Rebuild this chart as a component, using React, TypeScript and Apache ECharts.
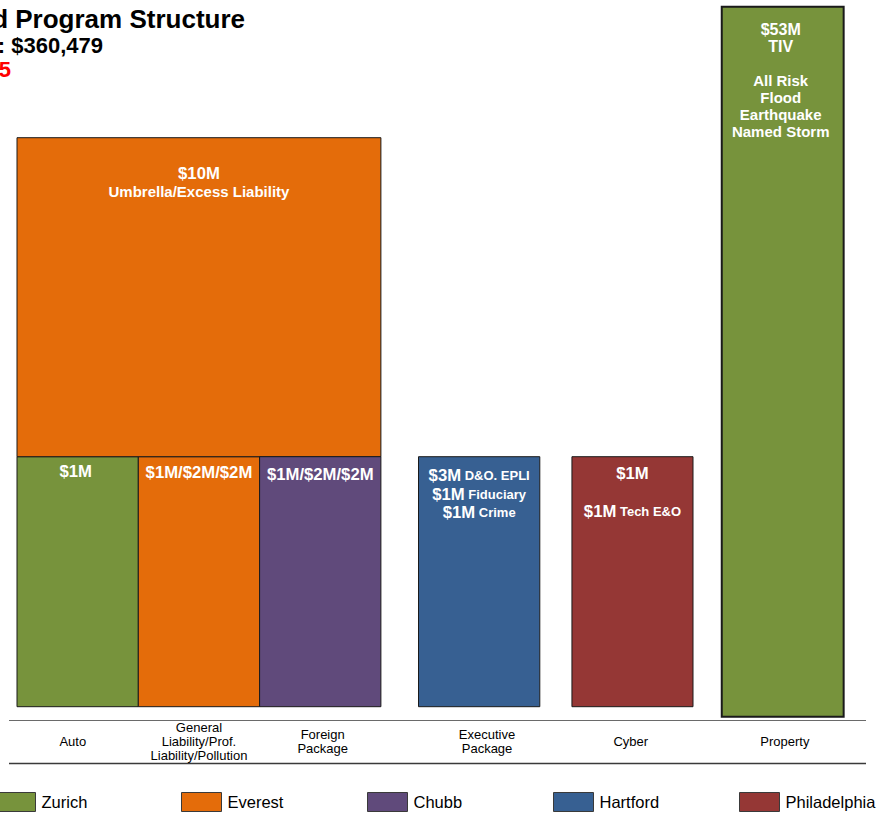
import React, { useEffect, useRef } from 'react';
import * as echarts from 'echarts';

const FONT = '"Liberation Sans", Arial, Helvetica, sans-serif';

// Carriers (legend) and their colours
const carriers = ['Zurich', 'Everest', 'Chubb', 'Hartford', 'Philadelphia'];
const carrierColors = ['#77933C', '#E46C0A', '#604A7B', '#376092', '#953735'];

// Coverage columns (x in column units)
const categories = [
  'Auto',
  'General\nLiability/Prof.\nLiability/Pollution',
  'Foreign\nPackage',
  'Executive\nPackage',
  'Cyber',
  'Property',
];
const columnStart = [0, 1, 2, 3.31, 4.575, 5.81];
const columnWidth = [1, 1, 1, 1.0, 0.998, 1.005];
const categoryLabelX = [0.46, 1.5, 2.52, 3.875, 5.06, 6.33];

// Layers of the program (y in primary-layer units)
const layerCarrier = ['Zurich', 'Everest', 'Chubb', 'Everest', 'Hartford', 'Philadelphia', 'Zurich'];
const layerFirstCol = [0, 1, 2, 0, 3, 4, 5];
const layerLastCol = [0, 1, 2, 2, 3, 4, 5];
const layerBottom = [0, 0, 0, 1, 0, 0, -0.04];
const layerTop = [1, 1, 1, 2.276, 1, 1, 2.8];
const layerLabels = [
  '{a|$1M}',
  '{a|$1M/$2M/$2M}',
  '{a|$1M/$2M/$2M}',
  '{a|$10M}\n{c|Umbrella/Excess Liability}',
  '{a|$3M} {b|D&O. EPLI}\n{a|$1M} {b|Fiduciary}\n{a|$1M} {b|Crime}',
  '{a|$1M}\n{a| }\n{a|$1M} {b|Tech E&O}',
  '{q|$53M}\n{q|TIV}\n{p| }\n{p|All Risk}\n{p|Flood}\n{p|Earthquake}\n{p|Named Storm}',
];

// Title lines
const titleLines = ['Proposed Program Structure', 'Total Program Premium: $360,479', 'Policy Term: 2024-2025'];

// Styling (positions / offsets for labels)
const labelFirstLineOffset = [15, 16, 18, 36, 19, 17, 23];
const labelLineHeight = [18, 18, 18, 18, 18.5, 19, 17];
const labelShiftX = [-2, 0, 0, 0, 0, 0, -2];
const legendLefts = [-5, 181, 367, 553, 739];

export default function App() {
  const ref = useRef<HTMLDivElement>(null);

  useEffect(() => {
    document.body.style.margin = '0';
    const chart = echarts.init(ref.current!, null, { renderer: 'svg' });

    const layerSeries = carriers.map((name, ci) => {
      const data: number[][] = [];
      layerCarrier.forEach((c, li) => {
        if (c !== name) return;
        const x0 = columnStart[layerFirstCol[li]];
        const x1 = columnStart[layerLastCol[li]] + columnWidth[layerLastCol[li]];
        data.push([x0, x1, layerBottom[li], layerTop[li], li]);
      });
      return {
        type: 'custom',
        name,
        itemStyle: { color: carrierColors[ci] },
        clip: false,
        data,
        renderItem: (params: any, api: any) => {
          const x0 = api.value(0);
          const x1 = api.value(1);
          const y0 = api.value(2);
          const y1 = api.value(3);
          const li = api.value(4);
          const tl = api.coord([x0, y1]);
          const br = api.coord([x1, y0]);
          const lh = labelLineHeight[li];
          const isProperty = li === 6;
          return {
            type: 'group',
            children: [
              {
                type: 'rect',
                shape: { x: tl[0], y: tl[1], width: br[0] - tl[0], height: br[1] - tl[1] },
                style: {
                  fill: carrierColors[ci],
                  stroke: '#1a1a1a',
                  lineWidth: isProperty ? 2 : 1,
                },
              },
              {
                type: 'text',
                x: (tl[0] + br[0]) / 2 + labelShiftX[li],
                y: tl[1] + labelFirstLineOffset[li] - lh / 2,
                style: {
                  text: layerLabels[li],
                  align: 'center',
                  verticalAlign: 'top',
                  fill: '#ffffff',
                  fontFamily: FONT,
                  fontWeight: 'bold',
                  fontSize: 13,
                  lineHeight: lh,
                  rich: {
                    a: { fontSize: 16.7, fontWeight: 'bold', fill: '#fff', fontFamily: FONT, lineHeight: lh },
                    b: { fontSize: 13, fontWeight: 'bold', fill: '#fff', fontFamily: FONT, lineHeight: lh },
                    c: { fontSize: 15, fontWeight: 'bold', fill: '#fff', fontFamily: FONT, lineHeight: lh },
                    p: { fontSize: 15, fontWeight: 'bold', fill: '#fff', fontFamily: FONT, lineHeight: lh },
                    q: { fontSize: 16, fontWeight: 'bold', fill: '#fff', fontFamily: FONT, lineHeight: lh },
                  },
                },
              },
            ],
          };
        },
      };
    });

    const axisLabelSeries = {
      type: 'custom',
      name: 'categories',
      clip: false,
      silent: true,
      data: categories.map((c, i) => [categoryLabelX[i], -0.141, i]),
      renderItem: (params: any, api: any) => {
        const p = api.coord([api.value(0), api.value(1)]);
        return {
          type: 'text',
          x: p[0],
          y: p[1],
          style: {
            text: categories[api.value(2)],
            align: 'center',
            verticalAlign: 'middle',
            fill: '#000',
            fontFamily: FONT,
            fontSize: 13,
            lineHeight: 14,
          },
        };
      },
    };

    chart.setOption({
      animation: false,
      backgroundColor: '#ffffff',
      grid: { left: 17, right: 14.9, top: 6.7, bottom: 57.3 },
      xAxis: { type: 'value', min: 0, max: 7, show: false },
      yAxis: { type: 'value', min: -0.2, max: 2.8, show: false },
      legend: carriers.map((name, i) => ({
        data: [name],
        left: legendLefts[i],
        top: 792,
        padding: 0,
        icon: 'rect',
        itemWidth: 40,
        itemHeight: 19,
        itemGap: 0,
        selectedMode: false,
        itemStyle: { borderColor: '#3a3a3a', borderWidth: 1 },
        textStyle: { fontFamily: FONT, fontSize: 16.5, color: '#000', padding: [0, 0, 0, 1] },
      })),
      graphic: [
        {
          type: 'text',
          x: 245,
          y: 19,
          style: {
            text: titleLines[0],
            align: 'right',
            verticalAlign: 'middle',
            fill: '#000',
            font: `bold 26px ${FONT}`,
          },
        },
        {
          type: 'text',
          x: 103,
          y: 45.5,
          style: {
            text: titleLines[1],
            align: 'right',
            verticalAlign: 'middle',
            fill: '#000',
            font: `bold 22px ${FONT}`,
          },
        },
        {
          type: 'text',
          x: 11,
          y: 69.5,
          style: {
            text: titleLines[2],
            align: 'right',
            verticalAlign: 'middle',
            fill: '#FF0000',
            font: `bold 22px ${FONT}`,
          },
        },
        {
          type: 'line',
          shape: { x1: 9, y1: 720.5, x2: 866, y2: 720.5 },
          style: { stroke: '#6a6a6a', lineWidth: 1.2 },
        },
        {
          type: 'line',
          shape: { x1: 9, y1: 763.5, x2: 866, y2: 763.5 },
          style: { stroke: '#3a3a3a', lineWidth: 1.6 },
        },
      ],
      series: [...layerSeries, axisLabelSeries],
    });

    return () => chart.dispose();
  }, []);

  return <div ref={ref} style={{ width: 881, height: 814 }} />;
}
